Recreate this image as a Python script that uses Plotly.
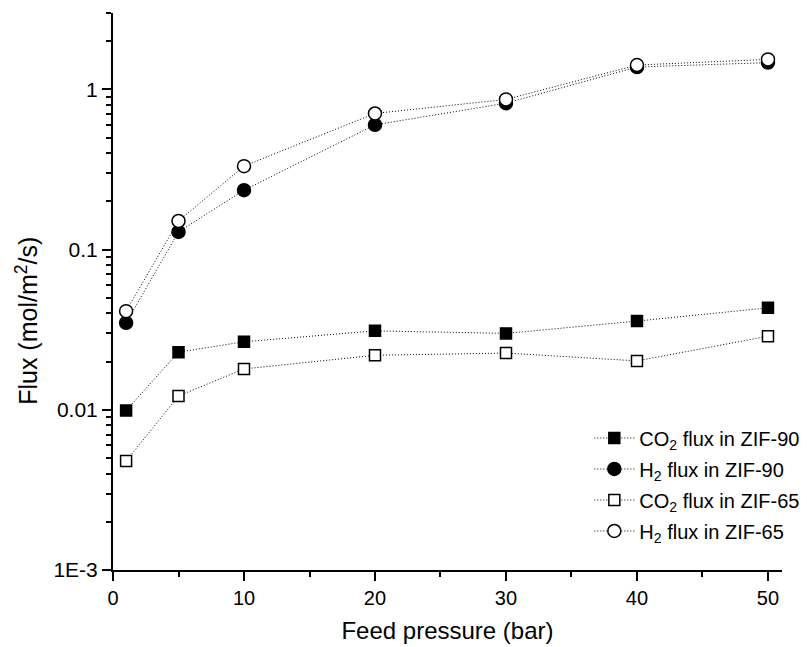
import plotly.graph_objects as go

pressure = [1, 5, 10, 20, 30, 40, 50]
co2_zif90 = [0.0099, 0.0229, 0.0266, 0.0311, 0.0300, 0.0358, 0.0433]
h2_zif90 = [0.0349, 0.129, 0.235, 0.601, 0.821, 1.38, 1.47]
co2_zif65 = [0.00479, 0.0122, 0.0180, 0.0219, 0.0226, 0.0202, 0.0288]
h2_zif65 = [0.0413, 0.151, 0.332, 0.708, 0.866, 1.42, 1.54]

names = ["CO<sub>2</sub> flux in ZIF-90", "H<sub>2</sub> flux in ZIF-90",
         "CO<sub>2</sub> flux in ZIF-65", "H<sub>2</sub> flux in ZIF-65"]
series = [co2_zif90, h2_zif90, co2_zif65, h2_zif65]
symbols = ["square", "circle", "square", "circle"]
fills = ["black", "black", "white", "white"]
sizes = [11, 13, 11, 13]

y_major = [0.001, 0.01, 0.1, 1]
y_major_text = ["1E-3", "0.01", "0.1", "1"]
y_minor = [m * 10.0 ** e for e in (-3, -2, -1, 0) for m in range(2, 10) if m * 10.0 ** e <= 3.0]

FONT = "Liberation Sans, Arial, sans-serif"

fig = go.Figure()
for i, (nm, ys) in enumerate(zip(names, series)):
    fig.add_trace(go.Scatter(
        x=pressure, y=ys, name=nm, mode="lines+markers",
        legendgroup=f"g{i}",
        line=dict(color="black", width=1, dash="1px,2px"),
        marker=dict(symbol=symbols[i], size=sizes[i], color=fills[i],
                    line=dict(color="black", width=1.5)),
    ))

fig.update_layout(
    width=807, height=647,
    margin=dict(l=113, r=25, t=13, b=77, autoexpand=False),
    paper_bgcolor="white", plot_bgcolor="white",
    font=dict(family=FONT, color="black", size=20),
    showlegend=True,
    legend=dict(x=0.712, y=0.272, xanchor="left", yanchor="top",
                bgcolor="rgba(0,0,0,0)", font=dict(size=20),
                tracegroupgap=2, itemwidth=40),
    annotations=[dict(text="Flux (mol/m<sup>2</sup>/s)", textangle=-90,
                      xref="paper", yref="paper", x=-0.128, y=0.448,
                      xanchor="center", yanchor="middle", showarrow=False,
                      font=dict(size=25))],
)
fig.update_xaxes(
    range=[0, 51.07], showline=True, linecolor="black", linewidth=2,
    ticks="outside", ticklen=9, tickwidth=2, tickcolor="black",
    tickvals=[0, 10, 20, 30, 40, 50], showgrid=False, zeroline=False,
    minor=dict(tickvals=[5, 15, 25, 35, 45], ticks="outside", ticklen=5,
               tickwidth=2, tickcolor="black"),
    title=dict(text="Feed pressure (bar)", font=dict(size=24), standoff=14),
    tickfont=dict(size=20),
)
fig.update_yaxes(
    type="log", range=[-3, 0.4771], showline=True, linecolor="black", linewidth=2,
    ticks="outside", ticklen=9, tickwidth=2, tickcolor="black",
    tickvals=y_major, ticktext=y_major_text, showgrid=False, zeroline=False,
    minor=dict(tickvals=y_minor, ticks="outside", ticklen=5,
               tickwidth=2, tickcolor="black"),
    tickfont=dict(size=21),
)

fig.write_html("out.html")
